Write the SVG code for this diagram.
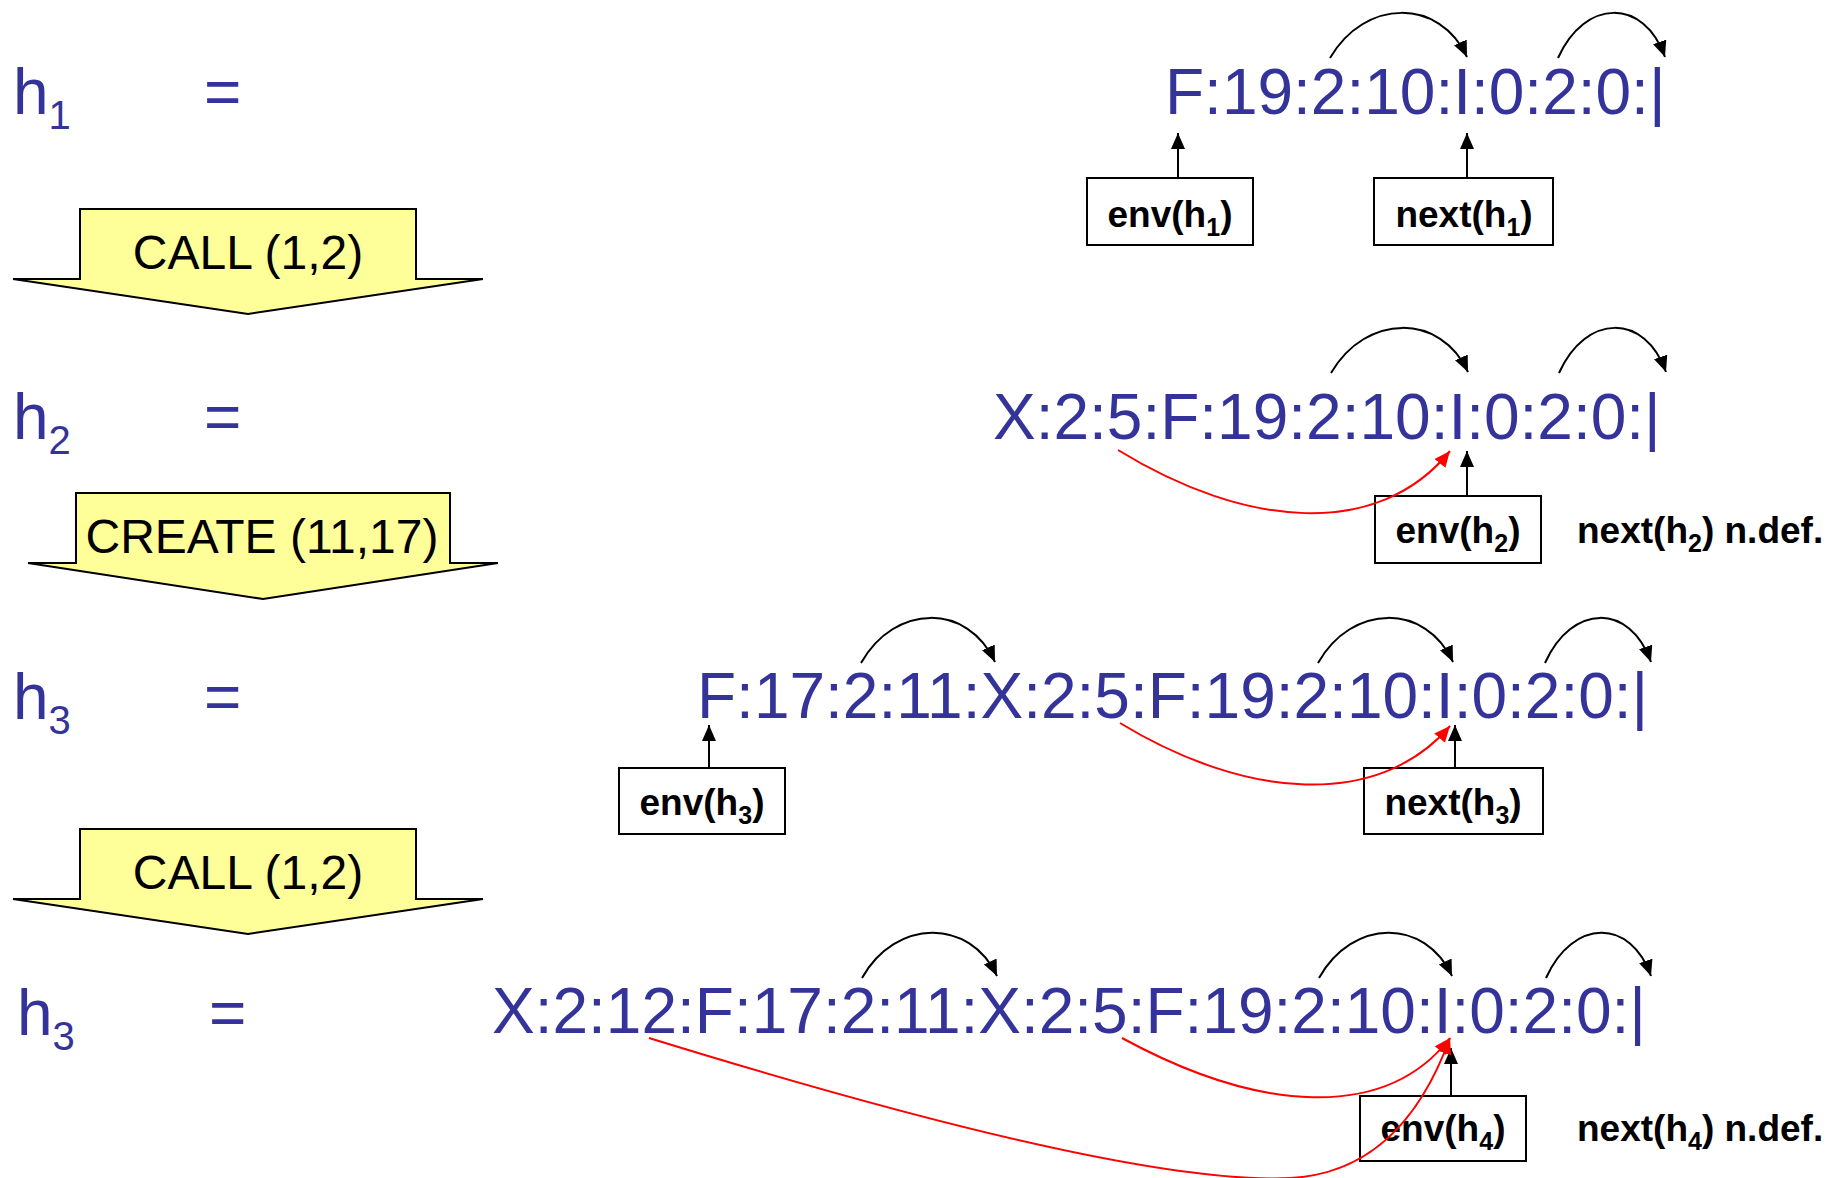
<svg xmlns="http://www.w3.org/2000/svg" width="1843" height="1178" viewBox="0 0 1843 1178">
<defs>
<marker id="ab" markerUnits="userSpaceOnUse" markerWidth="18" markerHeight="16" refX="16" refY="7" orient="auto"><path d="M0,0 L16,7 L0,14 z" fill="#000"/></marker>
<marker id="ar" markerUnits="userSpaceOnUse" markerWidth="18" markerHeight="16" refX="16" refY="7" orient="auto"><path d="M0,0 L16,7 L0,14 z" fill="#FF0000"/></marker>
<style>
.seq{font-family:"Liberation Sans",Arial,sans-serif;font-size:64px;fill:#333399}
.lbl{font-family:"Liberation Sans",Arial,sans-serif;font-size:64px;fill:#333399}
.sub{font-size:40px}
.op{font-family:"Liberation Sans",Arial,sans-serif;font-size:48px;fill:#000;text-anchor:middle}
.box{fill:#fff;stroke:#000;stroke-width:2}
.bt{font-family:"Liberation Sans",Arial,sans-serif;font-size:37px;font-weight:bold;fill:#000}
.bs{font-size:25px}
.blk{fill:none;stroke:#000;stroke-width:2;marker-end:url(#ab)}
.red{fill:none;stroke:#FF0000;stroke-width:2;marker-end:url(#ar)}
.shape{fill:#FFFF99;stroke:#000;stroke-width:2;stroke-linejoin:miter}
</style>
</defs>
<rect width="1843" height="1178" fill="#fff"/>

<g id="labels">
<text class="lbl" x="13" y="114">h<tspan class="sub" dy="15">1</tspan></text>
<text class="lbl" x="204" y="114">=</text>
<text class="lbl" x="13" y="439">h<tspan class="sub" dy="15">2</tspan></text>
<text class="lbl" x="204" y="439">=</text>
<text class="lbl" x="13" y="719">h<tspan class="sub" dy="15">3</tspan></text>
<text class="lbl" x="204" y="719">=</text>
<text class="lbl" x="17" y="1035">h<tspan class="sub" dy="15">3</tspan></text>
<text class="lbl" x="209" y="1035">=</text>
</g>

<g id="op-call1">
<path class="shape" d="M80,209 L416,209 L416,279 L483,279 L248,314 L13,279 L80,279 Z"/>
<text class="op" x="248" y="269">CALL (1,2)</text>
</g>
<g id="op-create">
<path class="shape" d="M76,493 L450,493 L450,563 L498,563 L263,599 L28,563 L76,563 Z"/>
<text class="op" x="262" y="553">CREATE (11,17)</text>
</g>
<g id="op-call2">
<path class="shape" d="M80,829 L416,829 L416,899 L483,899 L248,934 L13,899 L80,899 Z"/>
<text class="op" x="248" y="889">CALL (1,2)</text>
</g>

<g id="seq1"><text class="seq" x="1165" y="114">F:19:2:10:I:0:2:0:|</text></g>
<g id="seq2"><text class="seq" x="993" y="439">X:2:5:F:19:2:10:I:0:2:0:|</text></g>
<g id="seq3"><text class="seq" x="697" y="718">F:17:2:11:X:2:5:F:19:2:10:I:0:2:0:|</text></g>
<g id="seq4"><text class="seq" x="492" y="1033">X:2:12:F:17:2:11:X:2:5:F:19:2:10:I:0:2:0:|</text></g>

<g id="box-env1"><rect class="box" x="1087" y="178" width="166" height="67"/><text class="bt" x="1170" y="227" text-anchor="middle">env(h<tspan class="bs" dy="9">1</tspan><tspan dy="-9">)</tspan></text></g>
<g id="box-next1"><rect class="box" x="1374" y="178" width="179" height="67"/><text class="bt" x="1464" y="227" text-anchor="middle">next(h<tspan class="bs" dy="9">1</tspan><tspan dy="-9">)</tspan></text></g>
<g id="box-env2"><rect class="box" x="1375" y="496" width="166" height="67"/><text class="bt" x="1458" y="543" text-anchor="middle">env(h<tspan class="bs" dy="9">2</tspan><tspan dy="-9">)</tspan></text></g>
<g id="note2"><text class="bt" x="1577" y="543">next(h<tspan class="bs" dy="9">2</tspan><tspan dy="-9">) n.def.</tspan></text></g>
<g id="box-env3"><rect class="box" x="619" y="768" width="166" height="66"/><text class="bt" x="702" y="815" text-anchor="middle">env(h<tspan class="bs" dy="9">3</tspan><tspan dy="-9">)</tspan></text></g>
<g id="box-next3"><rect class="box" x="1364" y="768" width="179" height="66"/><text class="bt" x="1453" y="815" text-anchor="middle">next(h<tspan class="bs" dy="9">3</tspan><tspan dy="-9">)</tspan></text></g>
<g id="box-env4"><rect class="box" x="1360" y="1096" width="166" height="65"/><text class="bt" x="1443" y="1141" text-anchor="middle">env(h<tspan class="bs" dy="9">4</tspan><tspan dy="-9">)</tspan></text></g>
<g id="note4"><text class="bt" x="1577" y="1141">next(h<tspan class="bs" dy="9">4</tspan><tspan dy="-9">) n.def.</tspan></text></g>

<g id="connectors">
<path class="blk" d="M1330,58 C1365,-2 1440,-2 1467,57"/>
<path class="blk" d="M1558,58 C1585,-2 1644,-2 1665,57"/>
<path class="blk" d="M1178,178 L1178,133"/>
<path class="blk" d="M1467,178 L1467,133"/>

<path class="blk" d="M1331,373 C1366,313 1441,313 1468,372"/>
<path class="blk" d="M1559,373 C1586,313 1645,313 1666,372"/>
<path class="blk" d="M1467,496 L1467,451"/>
<path class="red" d="M1118,450 C1245,528 1378,540 1450,451"/>

<path class="blk" d="M861,663 C895,603 968,603 995,662"/>
<path class="blk" d="M1318,663 C1352,603 1426,603 1453,662"/>
<path class="blk" d="M1545,663 C1572,603 1630,603 1651,662"/>
<path class="blk" d="M709,768 L709,725"/>
<path class="blk" d="M1455,768 L1455,725"/>
<path class="red" d="M1120,723 C1245,799 1378,810 1450,726"/>

<path class="blk" d="M862,978 C896,918 970,918 997,976"/>
<path class="blk" d="M1319,978 C1353,918 1425,918 1452,976"/>
<path class="blk" d="M1546,978 C1573,918 1631,918 1651,976"/>
<path class="blk" d="M1451,1096 L1451,1048"/>
<path class="red" d="M1122,1038 C1258,1112 1385,1122 1450,1038"/>
<path class="red" d="M649,1038 C850,1100 1150,1185 1290,1178 C1370,1174 1420,1120 1450,1038"/>
</g>
</svg>
